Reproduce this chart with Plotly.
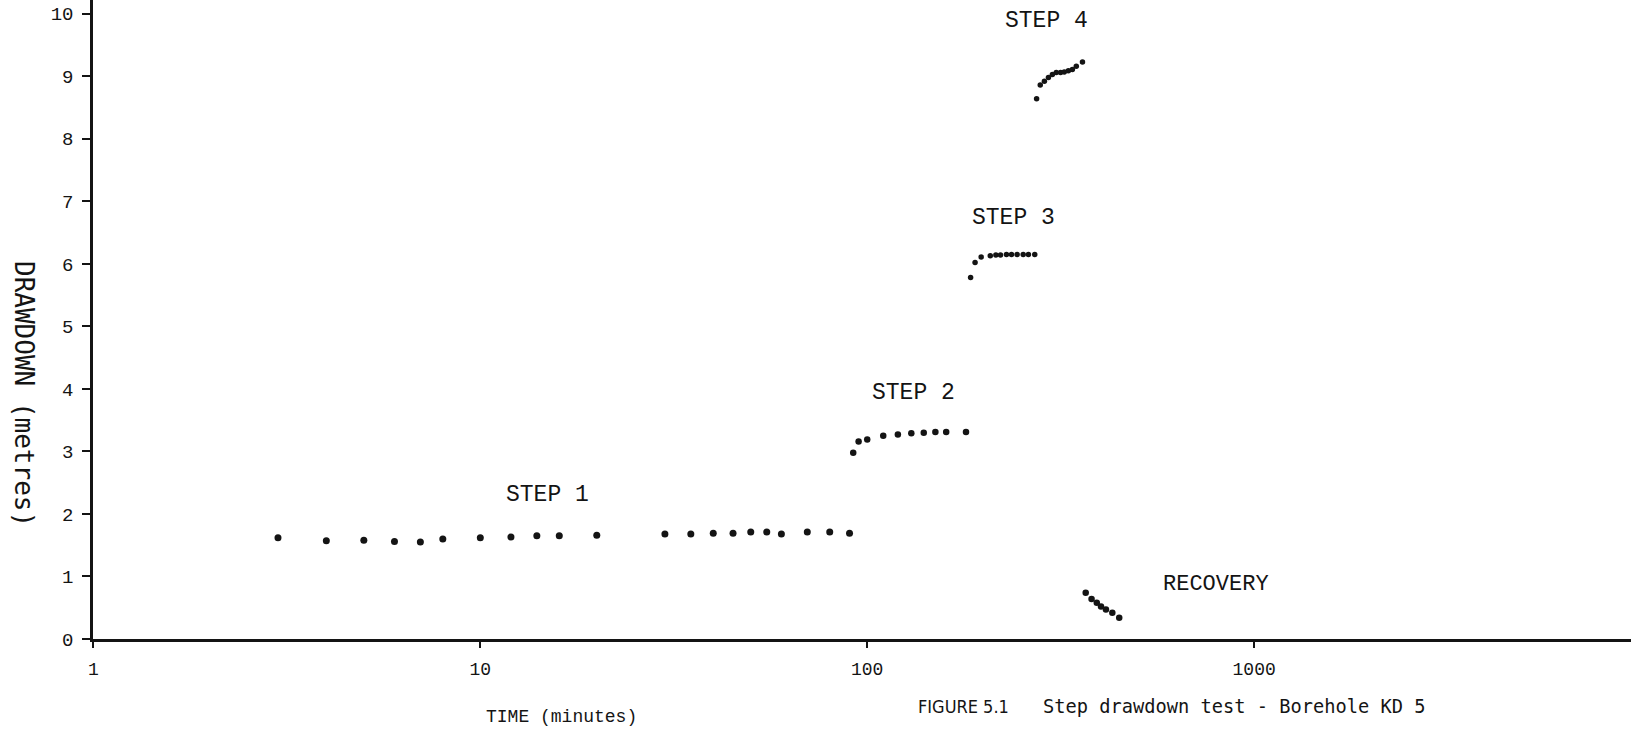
import plotly.graph_objects as go

# ---------------- data ----------------
step1_time = [3, 4, 5, 6, 7, 8, 10, 12, 14, 16, 20, 30, 35, 40, 45, 50, 55, 60, 70, 80, 90]
step1_dd = [1.62, 1.57, 1.58, 1.56, 1.55, 1.60, 1.62, 1.63, 1.65, 1.65, 1.66,
            1.68, 1.68, 1.69, 1.69, 1.71, 1.71, 1.68, 1.71, 1.71, 1.69]

step2_time = [92, 95, 100, 110, 120, 130, 140, 150, 160, 180]
step2_dd = [2.98, 3.16, 3.19, 3.25, 3.27, 3.29, 3.30, 3.31, 3.31, 3.31]

step3_time = [185, 190, 197, 208, 215, 221, 229, 236, 244, 253, 261, 271]
step3_dd = [5.78, 6.02, 6.11, 6.13, 6.14, 6.14, 6.15, 6.15, 6.15, 6.15, 6.15, 6.15]

step4_time = [274, 280, 287, 294, 301, 308, 316, 323, 331, 339, 347, 360]
step4_dd = [8.64, 8.86, 8.92, 8.98, 9.03, 9.06, 9.06, 9.07, 9.09, 9.11, 9.16, 9.23]

recovery_time = [367, 380, 392, 402, 414, 430, 448]
recovery_dd = [0.74, 0.64, 0.58, 0.52, 0.47, 0.42, 0.34]

x_tickvals = [1, 10, 100, 1000]
x_ticktext = ["1", "10", "100", "1000"]
y_tickvals = list(range(0, 11))

# ---------------- layout geometry ----------------
W, H = 1631, 729
ML, MB, MT, MR = 93, 90, 0, 0
PW, PH = W - ML - MR, H - MB - MT
INK = "#141414"
MONO_SERIF = "Liberation Mono, Courier New, monospace"
MONO_SANS = "DejaVu Sans Mono, monospace"
NARROW_SANS = "DejaVu Sans Condensed, Roboto, sans-serif"


def paper(xp, yp):
    """convert page pixel position to paper coordinates"""
    return (xp - ML) / PW, (H - MB - yp) / PH


fig = go.Figure()
series = [
    (step1_time, step1_dd, 7),
    (step2_time, step2_dd, 6.5),
    (step3_time, step3_dd, 5.5),
    (step4_time, step4_dd, 5.5),
    (recovery_time, recovery_dd, 6.5),
]
for t, d, s in series:
    fig.add_trace(go.Scatter(x=t, y=d, mode="markers",
                             marker=dict(color=INK, size=s, line=dict(width=0)),
                             hoverinfo="x+y"))

annotations = []


def label(text, xp, yp, family, size, angle=0):
    x, y = paper(xp, yp)
    annotations.append(dict(text=text, x=x, y=y, xref="paper", yref="paper",
                            xanchor="center", yanchor="middle", showarrow=False,
                            textangle=angle,
                            font=dict(family=family, size=size, color=INK)))


label("STEP 1", 547, 495, MONO_SERIF, 23)
label("STEP 2", 913, 393, MONO_SERIF, 23)
label("STEP 3", 1013, 218, MONO_SERIF, 23)
label("STEP 4", 1046, 21, MONO_SERIF, 23)
label("RECOVERY", 1216, 584, MONO_SERIF, 22)
label("TIME (minutes)", 561, 717, MONO_SERIF, 18)
label("FIGURE 5.1", 963, 706, NARROW_SANS, 18)
label("Step drawdown test - Borehole KD 5", 1234, 706, MONO_SANS, 18.7)
label("DRAWDOWN (metres)", 24, 394, MONO_SANS, 26, angle=90)

fig.update_layout(
    width=W, height=H,
    margin=dict(l=ML, r=MR, t=MT, b=MB, pad=0),
    paper_bgcolor="white", plot_bgcolor="white",
    showlegend=False,
    annotations=annotations,
)
fig.update_xaxes(
    type="log", range=[-0.001, 3.974],
    tickvals=x_tickvals, ticktext=x_ticktext,
    ticks="outside", ticklen=6, tickwidth=2, tickcolor=INK,
    showline=True, linewidth=2.5, linecolor=INK,
    showgrid=False, zeroline=False,
    tickfont=dict(family=MONO_SERIF, size=18, color=INK),
    ticklabelstandoff=6,
)
fig.update_yaxes(
    range=[0, 10.22], tickvals=y_tickvals,
    ticks="outside", ticklen=8, tickwidth=2, tickcolor=INK,
    showline=True, linewidth=2.5, linecolor=INK,
    showgrid=False, zeroline=False,
    tickfont=dict(family=MONO_SERIF, size=19, color=INK),
    ticklabelstandoff=5,
)

fig.write_html("out.html")
